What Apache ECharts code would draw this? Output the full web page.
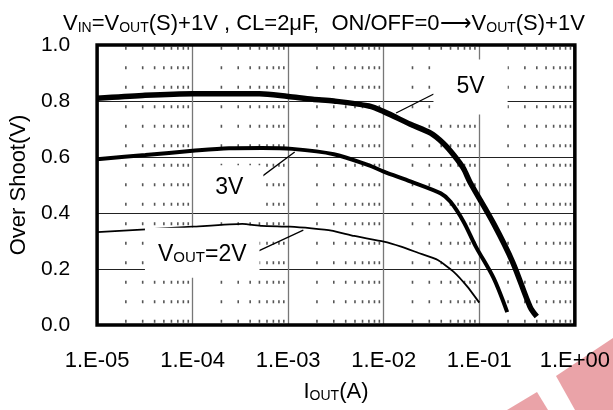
<!DOCTYPE html>
<html><head><meta charset="utf-8">
<script src="https://cdn.jsdelivr.net/npm/echarts@6/dist/echarts.min.js"></script>
<style>html,body{margin:0;padding:0;background:#fff}#c{width:613px;height:410px}</style>
</head><body><div id="c"></div>
<script>
// ---- data ----
const xTickLabels = ['1.E-05', '1.E-04', '1.E-03', '1.E-02', '1.E-01', '1.E+00'];
const yTickLabels = ['0.0', '0.2', '0.4', '0.6', '0.8', '1.0'];

const iout5V = [1e-5, 3e-5, 1e-4, 5e-4, 1e-3, 1.8e-3, 3e-3, 7e-3, 1e-2, 1.9e-2, 3.1e-2, 4.2e-2, 5.4e-2, 6.8e-2, 8e-2, 0.141, 0.224, 0.34, 0.40];
const over5V = [0.81, 0.82, 0.826, 0.826, 0.816, 0.806, 0.80, 0.782, 0.762, 0.717, 0.685, 0.649, 0.607, 0.56, 0.51, 0.363, 0.224, 0.065, 0.03];

const iout3V = [1e-5, 3.2e-5, 1e-4, 2.4e-4, 5.3e-4, 1.1e-3, 3e-3, 6.9e-3, 1e-2, 1.93e-2, 3.95e-2, 5e-2, 6.85e-2, 9.2e-2, 0.141, 0.196];
const over3V = [0.592, 0.607, 0.622, 0.631, 0.632, 0.629, 0.61, 0.571, 0.548, 0.512, 0.47, 0.44, 0.369, 0.28, 0.168, 0.046];

const iout2V = [1e-5, 1e-4, 3.3e-4, 5.3e-4, 1.04e-3, 1.76e-3, 2.84e-3, 4.9e-3, 1e-2, 1.52e-2, 2.28e-2, 3.68e-2, 5.4e-2, 7.5e-2, 0.1];
const over2V = [0.332, 0.351, 0.361, 0.354, 0.351, 0.345, 0.337, 0.318, 0.298, 0.28, 0.258, 0.232, 0.19, 0.137, 0.08];

// annotation texts, anchor (data coords) and leader lines (data coords)
const annoTexts = ['5V', '3V', '{n|V}{s|OUT}{n|=2V}'];
const annoAnchors = [[0.081, 0.85], [2.42e-4, 0.49], [1.26e-4, 0.258]];
const annoLeaders = [
  [[0.0334, 0.825], [0.01346, 0.757]],
  [[3.89e-4, 0.496], [1.17e-3, 0.618]],
  [[4.72e-4, 0.262], [1.44e-3, 0.339]]
];

// ---- build ----
const FONT = '"Liberation Sans", Arial, sans-serif';
const zip = (a, b) => a.map((v, i) => [v, b[i]]);
const richStyles = (big, small) => ({
  n: {fontFamily: FONT, fontSize: big, fontWeight: 'normal', color: '#000', lineHeight: 26, verticalAlign: 'bottom'},
  s: {fontFamily: FONT, fontSize: small, fontWeight: 'normal', color: '#000', lineHeight: 11, verticalAlign: 'bottom'}
});

const minorVals = [];
for (let d = -5; d < 0; d++) for (let m = 2; m <= 9; m++) minorVals.push(m * Math.pow(10, d));

const annoPads = [[16, 23], [11, 20], [12, 13]];

const minorSeries = minorVals.map(v => ({
  type: 'line', z: 1, silent: true, showSymbol: false,
  data: [[v, 1], [v, 0]],
  lineStyle: {type: [3, 16.5], dashOffset: 17.7, color: '#555', width: 1.6}
}));

const chart = echarts.init(document.getElementById('c'), null, {renderer: 'canvas'});
chart.setOption({
  animation: false,
  backgroundColor: '#fff',
  title: {
    text: '{n|V}{s|IN}{n|=V}{s|OUT}{n|(S)+1V , CL=2μF,  ON/OFF=0⟶V}{s|OUT}{n|(S)+1V}',
    left: 58, top: 4,
    textStyle: {fontWeight: 'normal', rich: richStyles(22, 14)}
  },
  graphic: [
    {type: 'polygon', z: -10, shape: {points: [[556, 376], [613, 338], [613, 410], [575, 410]]}, style: {fill: '#eaa3a8'}},
    {type: 'polygon', z: -10, shape: {points: [[507, 410], [537, 392], [548, 410]]}, style: {fill: '#eaa3a8'}}
  ],
  grid: {left: 94, right: 38, top: 45, bottom: 85, show: true, z: 10,
         borderColor: '#000', borderWidth: 3.5, backgroundColor: 'transparent'},
  xAxis: {
    type: 'log', min: 1e-5, max: 1, logBase: 10,
    name: '{n|I}{s|OUT}{n|(A)}', nameLocation: 'middle', nameGap: 52,
    nameTextStyle: {rich: richStyles(22, 14)},
    axisLine: {show: false}, axisTick: {show: false},
    axisLabel: {fontFamily: FONT, fontSize: 22, color: '#000', margin: 25,
      formatter: v => xTickLabels[Math.round(Math.log10(v)) + 5]},
    splitLine: {show: true, lineStyle: {color: '#777', width: 1.3}}
  },
  yAxis: {
    type: 'value', min: 0, max: 1, interval: 0.2,
    name: 'Over Shoot(V)', nameLocation: 'middle', nameRotate: 90, nameGap: 62,
    nameTextStyle: {fontFamily: FONT, fontSize: 22, color: '#000'},
    axisLine: {show: false}, axisTick: {show: false},
    axisLabel: {fontFamily: FONT, fontSize: 21, color: '#000', margin: 27,
      formatter: v => yTickLabels[Math.round(v / 0.2)]},
    splitLine: {show: true, lineStyle: {color: '#222', width: 1}}
  },
  series: minorSeries.concat([
    {
      type: 'line', z: 2, data: [], silent: true,
      markPoint: {
        silent: true, symbol: 'rect', symbolSize: 0, animation: false,
        label: {show: true, position: 'inside', backgroundColor: '#fff', color: '#000',
          fontFamily: FONT, fontSize: 23, rich: richStyles(23, 15)},
        data: annoAnchors.map((c, i) => ({coord: c, label: {formatter: annoTexts[i], padding: annoPads[i]}}))
      },
      markLine: {
        silent: true, symbol: 'none', animation: false,
        label: {show: false},
        lineStyle: {type: 'solid', color: '#000', width: 1.3},
        data: annoLeaders.map(l => [{coord: l[0]}, {coord: l[1]}])
      }
    },
    {type: 'line', z: 3, data: zip(iout5V, over5V), showSymbol: false, smooth: 0.3,
     lineStyle: {color: '#000', width: 5.5}},
    {type: 'line', z: 3, data: zip(iout3V, over3V), showSymbol: false, smooth: 0.3,
     lineStyle: {color: '#000', width: 4}},
    {type: 'line', z: 3, data: zip(iout2V, over2V), showSymbol: false, smooth: 0.15,
     lineStyle: {color: '#000', width: 1.8}}
  ])
});
</script></body></html>
